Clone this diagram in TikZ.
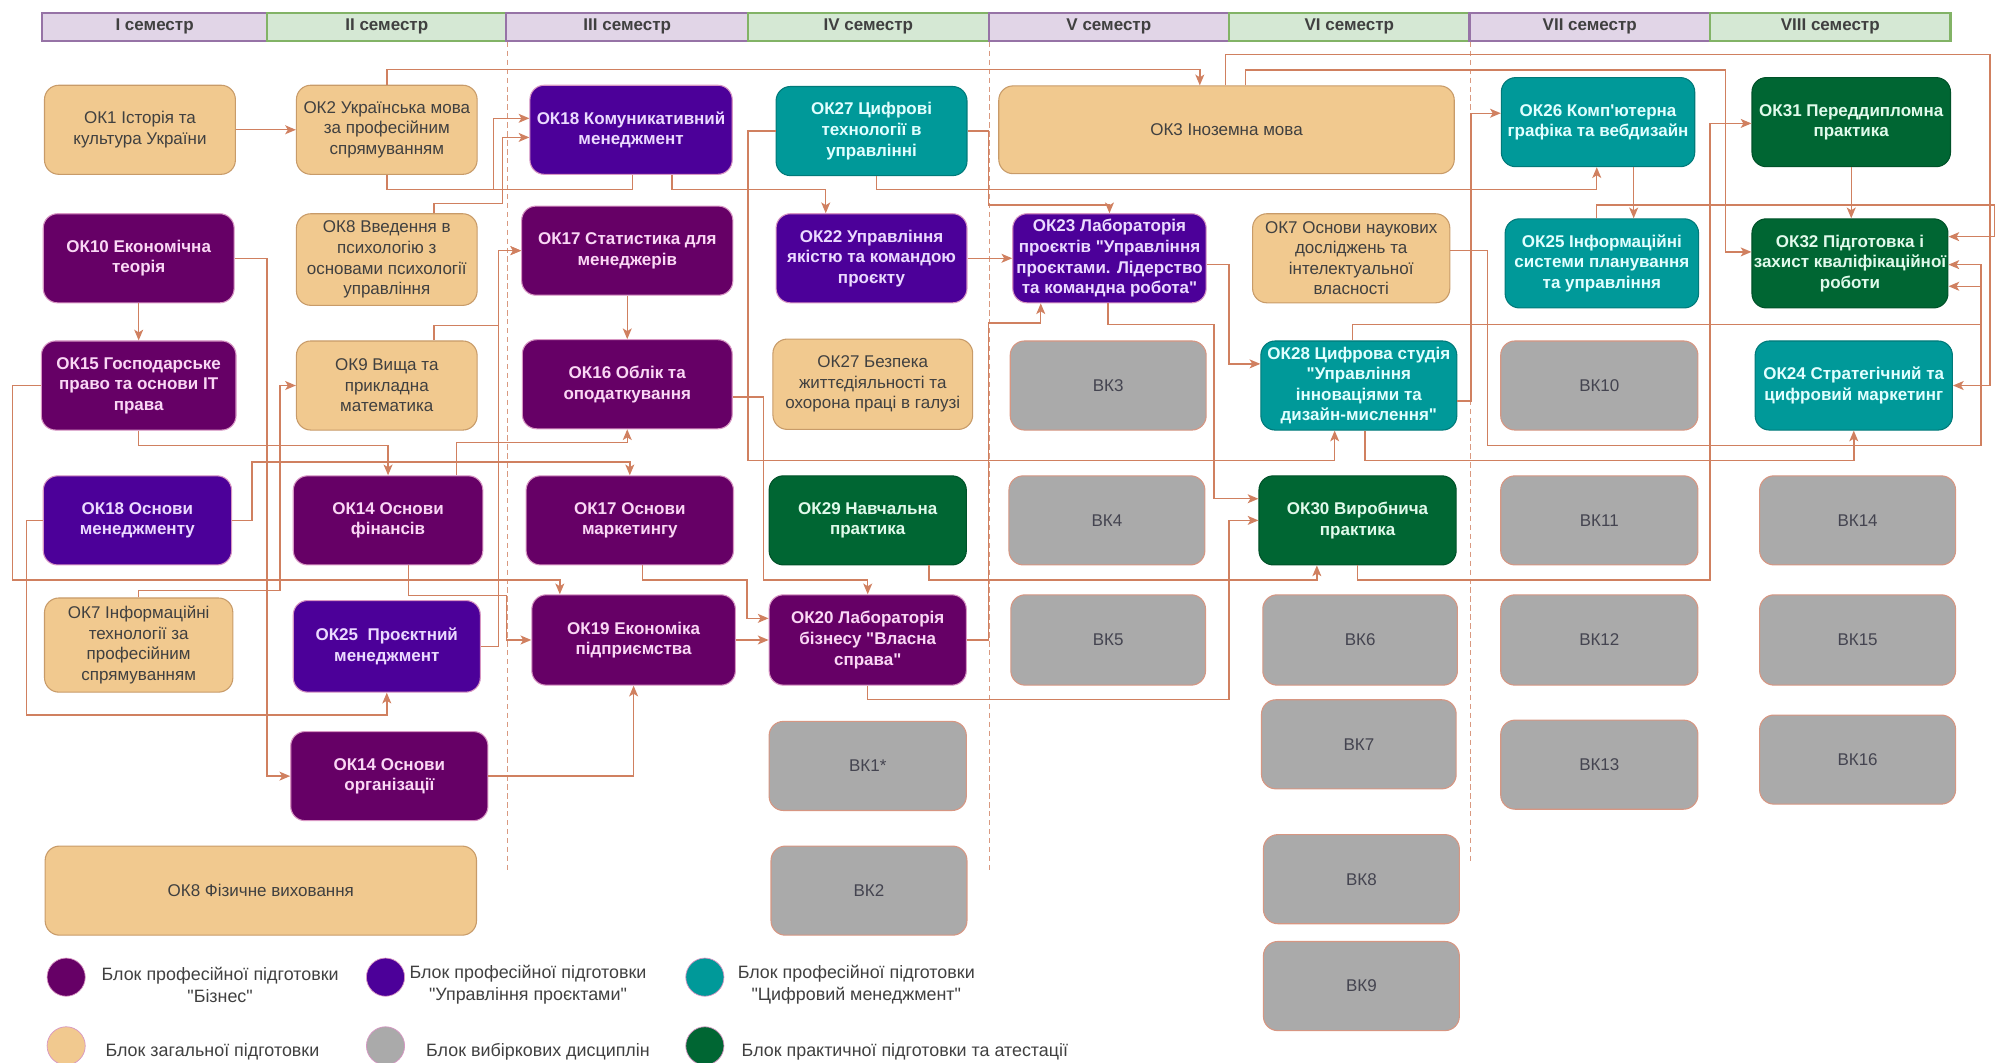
\documentclass[tikz,border=0pt]{standalone}
\usepackage{fontspec}
\setmainfont{Liberation Sans}[Ligatures=TeXOff]
\usetikzlibrary{arrows.meta}

\definecolor{genF}{RGB}{241,201,143}
\definecolor{genD}{RGB}{200,155,105}
\definecolor{bizF}{RGB}{102,0,102}
\definecolor{pmF}{RGB}{76,0,153}
\definecolor{digF}{RGB}{0,153,153}
\definecolor{pracF}{RGB}{0,102,51}
\definecolor{elF}{RGB}{170,170,170}
\definecolor{elD}{RGB}{215,150,130}
\definecolor{darkD}{RGB}{215,150,195}
\definecolor{linkC}{RGB}{208,128,96}
\definecolor{semPF}{RGB}{225,213,231}
\definecolor{semPD}{RGB}{150,115,166}
\definecolor{semGF}{RGB}{213,232,212}
\definecolor{semGD}{RGB}{130,179,102}
\definecolor{txtD}{RGB}{64,64,64}
\definecolor{elT}{RGB}{68,68,80}
\definecolor{bizT}{RGB}{250,215,245}
\definecolor{pmT}{RGB}{235,218,255}
\definecolor{digT}{RGB}{225,255,255}
\definecolor{pracT}{RGB}{225,250,235}

\tikzset{
  wd/.style={minimum width=#1*0.025cm},
  ht/.style={minimum height=#1*0.025cm},
  box/.style={rounded corners=8pt, align=center, minimum height=1.75cm,
    minimum width=3.75cm, inner sep=1pt, line width=0.6pt,
    font=\fontsize{9.5}{11.5}\selectfont},
  gen/.style={box, fill=genF, draw=genD, text=txtD},
  biz/.style={box, fill=bizF, draw=darkD, text=bizT,
    font=\fontsize{9.5}{11.5}\selectfont\bfseries},
  pm/.style={box, fill=pmF, draw=darkD, text=pmT,
    font=\fontsize{9.5}{11.5}\selectfont\bfseries},
  dig/.style={box, fill=digF, draw=digF!80!black, text=digT,
    font=\fontsize{9.5}{11.5}\selectfont\bfseries},
  prac/.style={box, fill=pracF, draw=pracF!80!black, text=pracT,
    font=\fontsize{9.5}{11.5}\selectfont\bfseries},
  elec/.style={box, fill=elF, draw=elD, text=elT},
  semP/.style={draw=semPD, fill=semPF, line width=1.2pt, minimum height=0.55cm,
    inner sep=0pt, font=\fontsize{9.5}{11}\selectfont\bfseries, text=txtD},
  semG/.style={semP, draw=semGD, fill=semGF},
  semline/.style={draw=linkC!80, line width=0.5pt, dash pattern=on 3pt off 2pt},
  link/.style={draw=linkC, line width=0.8pt,
    -{Stealth[length=6pt,width=5pt,inset=1.5pt]}},
  plainln/.style={draw=linkC, line width=0.8pt},
  lgdot/.style={circle, minimum size=0.75cm, inner sep=0pt, draw=darkD},
  lgtext/.style={align=center, text=txtD, font=\fontsize{10}{12}\selectfont}
}

\begin{document}
\begin{tikzpicture}[x=0.025cm,y=-0.025cm]
\useasboundingbox (0,0) rectangle (1568,835);

% semester header
\node[semP, wd=177] (s1) at (121.5,21) {I семестр};
\node[semG, wd=188] (s2) at (304,21) {II семестр};
\node[semP, wd=190] (s3) at (493,21) {III семестр};
\node[semG, wd=189] (s4) at (682.5,21) {IV семестр};
\node[semP, wd=189] (s5) at (871.5,21) {V семестр};
\node[semG, wd=189] (s6) at (1060.5,21) {VI семестр};
\node[semP, wd=189] (s7) at (1249.5,21) {VII семестр};
\node[semG, wd=189] (s8) at (1438.5,21) {VIII семестр};

% year separators
\draw[semline] (s2.south east) -- ++(0,653);
\draw[semline] (s4.south east) -- ++(0,653);
\draw[semline] (s6.south east) -- ++(0,644);

% I semester
\node[gen] (ok1) at (110,102) {ОК1 Історія та\\культура України};
\node[biz] (ok10) at (109,203) {ОК10 Економічна\\теорія};
\node[biz, wd=153] (ok15) at (109,303) {ОК15 Господарське\\право та основи ІТ\\права};
\node[pm, wd=148] (ok18m) at (108,409) {ОК18 Основи\\менеджменту};
\node[gen, wd=148, ht=74] (ok7it) at (109,507) {ОК7 Інформаційні\\технології за\\професійним\\спрямуванням};
\node[gen, wd=339] (ok8f) at (205,700) {ОК8 Фізичне виховання};

% II semester
\node[gen, wd=142] (ok2) at (304,102) {ОК2 Українська мова\\за професійним\\спрямуванням};
\node[gen, wd=142, ht=72] (ok8p) at (304,204) {ОК8 Введення в\\психологію з\\основами психології\\управління};
\node[gen, wd=142] (ok9) at (304,303) {ОК9 Вища та\\прикладна\\математика};
\node[biz, wd=149] (ok14f) at (305,409) {ОК14 Основи\\фінансів};
\node[pm, wd=147, ht=72] (ok25p) at (304,508) {ОК25\ \ Проєктний\\менеджмент};
\node[biz, wd=155] (ok14o) at (306,610) {ОК14 Основи\\організації};

% III semester
\node[pm, wd=159] (ok18k) at (496,102) {ОК18 Комуникативний\\менеджмент};
\node[biz, wd=166] (ok17s) at (493,197) {ОК17 Статистика для\\менеджерів};
\node[biz, wd=165] (ok16) at (493,302) {ОК16 Облік та\\оподаткування};
\node[biz, wd=163] (ok17m) at (495,409) {ОК17 Основи\\маркетингу};
\node[biz, wd=160, ht=71] (ok19) at (498,503) {ОК19 Економіка\\підприємства};

% IV semester
\node[dig] (ok27c) at (685,103) {ОК27 Цифрові\\технології в\\управлінні};
\node[pm] (ok22) at (685,203) {ОК22 Управління\\якістю та командою\\проєкту};
\node[gen, wd=157, ht=71] (ok27b) at (686,302) {ОК27 Безпека\\життєдіяльності та\\охорона праці в галузі};
\node[prac, wd=155] (ok29) at (682,409) {ОК29 Навчальна\\практика};
\node[biz, wd=155, ht=71] (ok20) at (682,503) {ОК20 Лабораторія\\бізнесу "Власна\\справа"};
\node[elec, wd=155] (vk1) at (682,602) {ВК1*};
\node[elec, wd=154] (vk2) at (683,700) {ВК2};

% V semester
\node[gen, wd=358, ht=69] (ok3) at (964,102) {ОК3 Іноземна мова};
\node[pm, wd=152] (ok23) at (872,203) {ОК23 Лабораторія\\проєктів "Управління\\проєктами. Лідерство\\та командна робота"};
\node[elec, wd=154] (vk3) at (871,303) {ВК3};
\node[elec, wd=154] (vk4) at (870,409) {ВК4};
\node[elec, wd=153, ht=71] (vk5) at (871,503) {ВК5};

% VI semester
\node[gen, wd=155] (ok7n) at (1062,203) {ОК7 Основи наукових\\досліджень та\\інтелектуальної\\власності};
\node[dig, wd=154] (ok28) at (1068,303) {ОК28 Цифрова студія\\"Управління\\інноваціями та\\дизайн-мислення"};
\node[prac, wd=155] (ok30) at (1067,409) {ОК30 Виробнича\\практика};
\node[elec, wd=153, ht=71] (vk6) at (1069,503) {ВК6};
\node[elec, wd=153] (vk7) at (1068,585) {ВК7};
\node[elec, wd=154] (vk8) at (1070,691) {ВК8};
\node[elec, wd=154] (vk9) at (1070,775) {ВК9};

% VII semester
\node[dig, wd=152] (ok26) at (1256,96) {ОК26 Комп'ютерна\\графіка та вебдизайн};
\node[dig, wd=152] (ok25i) at (1259,207) {ОК25 Інформаційні\\системи планування\\та управління};
\node[elec, wd=155] (vk10) at (1257,303) {ВК10};
\node[elec, wd=155] (vk11) at (1257,409) {ВК11};
\node[elec, wd=155, ht=71] (vk12) at (1257,503) {ВК12};
\node[elec, wd=155] (vk13) at (1257,601) {ВК13};

% VIII semester
\node[prac, wd=156] (ok31) at (1455,96) {ОК31 Переддипломна\\практика};
\node[prac, wd=154] (ok32) at (1454,207) {ОК32 Підготовка і\\захист кваліфікаційної\\роботи};
\node[dig, wd=155] (ok24) at (1457,303) {ОК24 Стратегічний та\\цифровий маркетинг};
\node[elec, wd=154] (vk14) at (1460,409) {ВК14};
\node[elec, wd=154, ht=71] (vk15) at (1460,503) {ВК15};
\node[elec, wd=154] (vk16) at (1460,597) {ВК16};

% connectors, left part
\draw[link] (ok1) -- (ok2);
\draw[link] (ok2.north) -- ++(0,-12) -| (943,0 |- ok3.north);
\draw[link] (ok2.south) |- (388,149) |- (ok18k.west |- 0,93);
\draw[plainln] (497,0 |- ok18k.south) |- (388,149);
\draw[link] (341,0 |- ok8p.north) |- (395,160) |- (ok18k.west |- 0,108);
\draw[link] (341,0 |- ok9.north) |- (392,256) |- (ok17s.west);
\draw[link] (ok25p.east) -| (392,197) -- (ok17s.west);
\draw[link] (ok10) -- (ok15);
\draw[link] (ok10.east) -| (210,610) -- (ok14o.west);
\draw[link] (ok15.west) -| (10,456) -| (440,0 |- ok19.north);
\draw[link] (ok15.south) |- (305,350) -- (ok14f.north);
\draw[link] (ok7it.north) |- (220,464) |- (ok9.west);
\draw[link] (ok18m.west) -| (21,562) -| (ok25p.south);
\draw[link] (ok18m.east) -| (198,363) -| (ok17m.north);
\draw[link] (359,0 |- ok14f.north) -- (359,348) -| (ok16.south);
\draw[link] (321,0 |- ok14f.south) |- (398,468) |- (ok19.west);
\draw[link] (ok14o.east) -| (ok19.south);
\draw[link] (ok17s) -- (ok16);

% connectors, middle part
\draw[link] (ok16.east |- 0,312) -| (600,456) -| (ok20.north);
\draw[link] (505,0 |- ok17m.south) |- (587,456) |- (ok20.west |- 0,486);
\draw[link] (ok19) -- (ok20);
\draw[link] (ok20.east) -| (777,254) -| (818,0 |- ok23.south);
\draw[link] (ok20.south) |- (966,550) |- (ok30.west);
\draw[link] (730,0 |- ok29.south) |- (1035,456) -- (1035,0 |- ok30.south);
\draw[link] (ok27c.west) -| (588,362) -| (1049,0 |- ok28.south);
\draw[link] (ok27c.east) -| (777,161) -| (ok23.north);
\draw[link] (689,0 |- ok27c.south) |- (1255,149) -- (1255,0 |- ok26.south);
\draw[link] (528,0 |- ok18k.south) |- (649,149) -- (649,0 |- ok22.north);
\draw[link] (ok22) -- (ok23);
\draw[link] (ok23.east |- 0,208) -| (966,286) -- (ok28.west |- 0,286);
\draw[link] (871,0 |- ok23.south) |- (954,255) |- (ok30.west |- 0,392);

% connectors, right part
\draw[link] (979,0 |- ok3.north) |- (1356,55) |- (ok32.west |- 0,198);
\draw[link] (963,0 |- ok3.north) |- (1564,43) |- (ok24.east);
\draw[link] (ok28.east |- 0,315) -| (1156,89) -- (ok26.west |- 0,89);
\draw[link] (1073,0 |- ok28.south) -- (1073,362) -| (ok24.south);
\draw[link] (1063,0 |- ok28.north) |- (1557,255) |- (ok32.east |- 0,208);
\draw[link] (ok7n.east |- 0,197) -| (1169,350) -| (1557,225) -- (ok32.east |- 0,225);
\draw[link] (1284,0 |- ok26.south) -- (1284,0 |- ok25i.north);
\draw[link] (1255,0 |- ok25i.north) |- (1568,161) |- (ok32.east |- 0,186);
\draw[link] (ok31.south) -- (ok31.south |- ok32.north);
\draw[link] (ok30.south) |- (1344,456) |- (ok31.west |- 0,97);

% legend
\node[lgdot, fill=bizF] (lg1) at (52,768) {};
\node[lgtext] (lg1t) at (173,774) {Блок професійної підготовки\\"Бізнес"};
\node[lgdot, fill=pmF] (lg2) at (303,768) {};
\node[lgtext] (lg2t) at (415,774) {Блок професійної підготовки\\"Управління проєктами"};
\node[lgdot, fill=digF] (lg3) at (554,768) {};
\node[lgtext] (lg3t) at (673,774) {Блок професійної підготовки\\"Цифровий менеджмент"};
\node[lgdot, fill=genF] (lg4) at (52,822) {};
\node[lgtext, anchor=west] (lg4t) at (78,827) {Блок загальної підготовки};
\node[lgdot, fill=elF] (lg5) at (303,822) {};
\node[lgtext, anchor=west] (lg5t) at (330,827) {Блок вибіркових дисциплін};
\node[lgdot, fill=pracF] (lg6) at (554,822) {};
\node[lgtext, anchor=west] (lg6t) at (578,827) {Блок практичної підготовки та атестації};

\end{tikzpicture}
\end{document}
